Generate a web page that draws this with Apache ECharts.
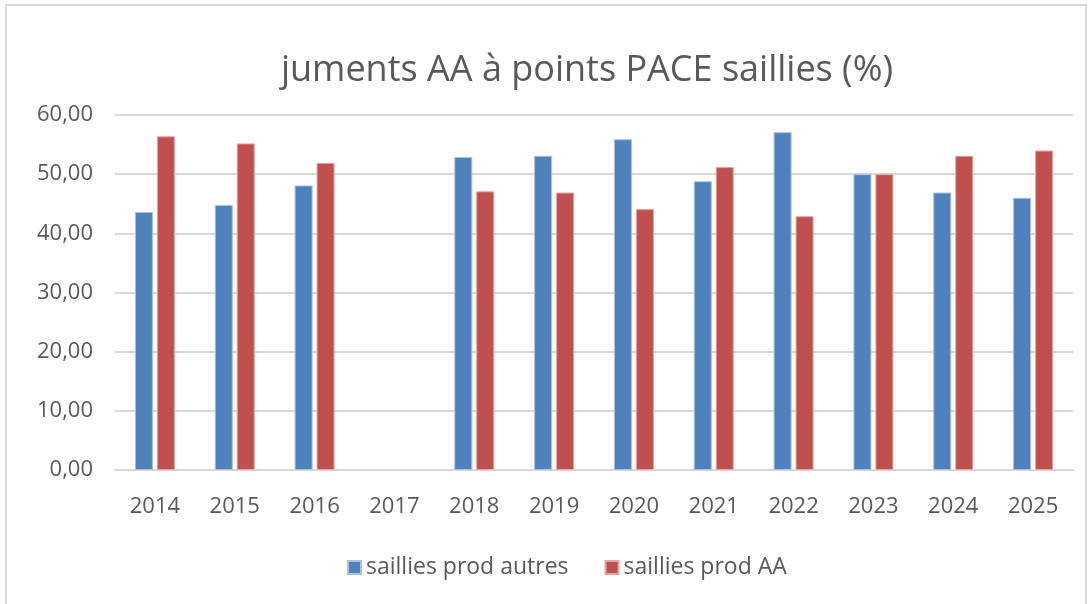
<!DOCTYPE html>
<html>
<head>
<meta charset="utf-8">
<script src="https://cdn.jsdelivr.net/npm/echarts@6/dist/echarts.min.js"></script>
<style>
html,body{margin:0;padding:0;background:#fff;}
#frame{position:absolute;left:5px;top:4px;width:1082px;height:600px;border:2px solid #d9d9d9;border-bottom:none;box-sizing:border-box;}
#c{position:absolute;left:0;top:0;width:1091px;height:604px;}
</style>
</head>
<body>
<div id="frame"></div>
<div id="c"></div>
<script>
const categories = ['2014','2015','2016','2017','2018','2019','2020','2021','2022','2023','2024','2025'];
const autres = [43.6, 44.8, 48.1, null, 52.9, 53.1, 55.9, 48.8, 57.1, 50.0, 46.9, 46.0];
const aa = [56.4, 55.2, 51.9, null, 47.1, 46.9, 44.1, 51.2, 42.9, 50.0, 53.1, 54.0];
const yTicks = [0, 10, 20, 30, 40, 50, 60];

const chart = echarts.init(document.getElementById('c'), null, {renderer:'canvas'});
const font = 'Open Sans';
chart.setOption({
  animation: false,
  backgroundColor: 'transparent',
  title: {
    text: 'juments AA à points PACE saillies (%)',
    left: 582, top: 48, textAlign: 'center',
    textStyle: {fontFamily: font, fontSize: 36, fontWeight: 'normal', color: '#595959'}
  },
  legend: {
    data: ['saillies prod autres', 'saillies prod AA'],
    left: 342, top: 551,
    icon: 'rect', itemWidth: 13, itemHeight: 13, itemGap: 36,
    textStyle: {fontFamily: font, fontSize: 23, color: '#595959'}
  },
  grid: {left: 115, right: 18, top: 115, bottom: 134},
  xAxis: {
    type: 'category', data: categories,
    axisLine: {lineStyle: {color: '#d9d9d9', width: 2}},
    axisTick: {show: false},
    axisLabel: {fontFamily: font, fontSize: 22, color: '#595959', margin: 26}
  },
  yAxis: {
    type: 'value', min: yTicks[0], max: yTicks[yTicks.length-1], interval: 10,
    axisLine: {show: false}, axisTick: {show: false},
    splitLine: {lineStyle: {color: '#d9d9d9', width: 2}},
    axisLabel: {fontFamily: font, fontSize: 22, color: '#595959', margin: 22,
      formatter: v => v.toFixed(2).replace('.', ',')}
  },
  series: [
    {name: 'saillies prod autres', type: 'bar', data: autres, barWidth: 18, barGap: '22%',
     itemStyle: {color: '#4F81BD', borderColor: '#a9c0e0', borderWidth: 1}},
    {name: 'saillies prod AA', type: 'bar', data: aa, barWidth: 18, barGap: '22%',
     itemStyle: {color: '#C0504D', borderColor: '#e3a6a4', borderWidth: 1}}
  ]
});
</script>
</body>
</html>
